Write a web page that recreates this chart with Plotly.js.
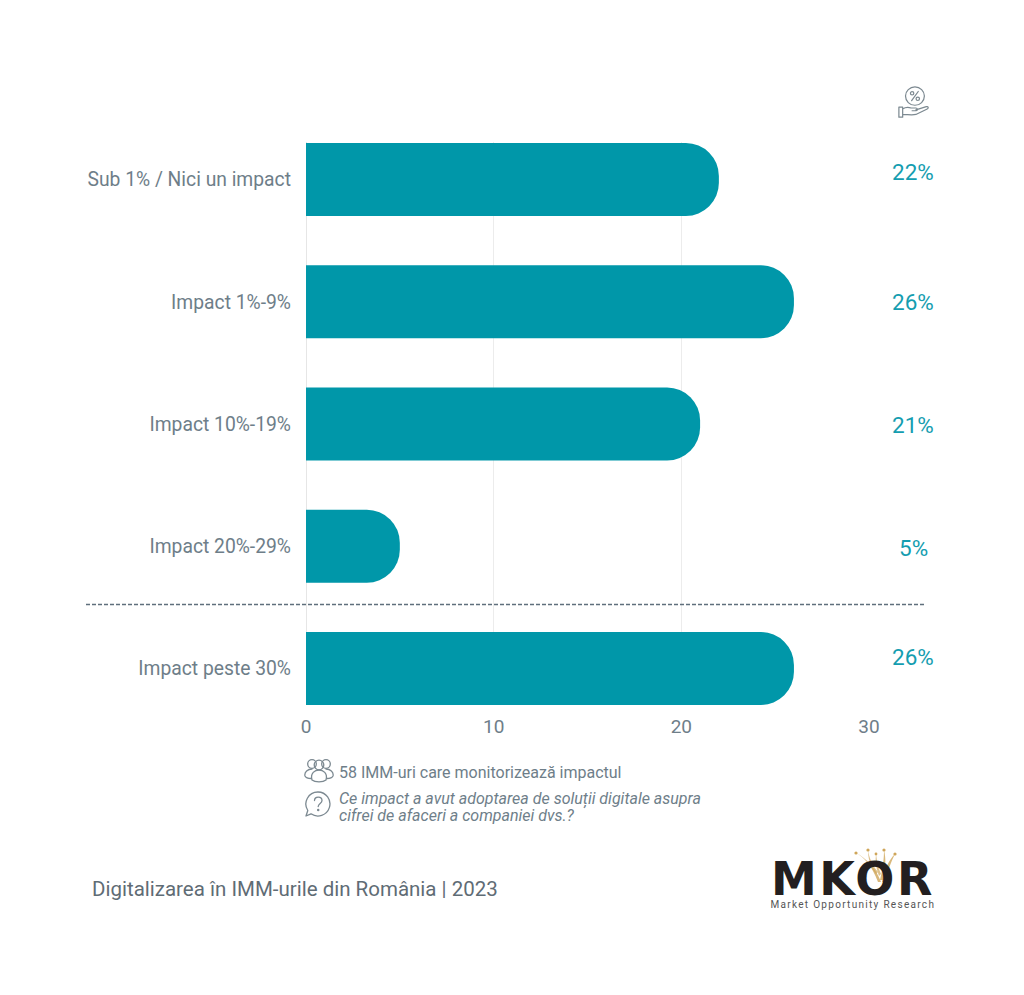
<!DOCTYPE html>
<html><head><meta charset="utf-8">
<script src="https://cdn.plot.ly/plotly-3.0.1.min.js"></script>
<style>
html,body{margin:0;padding:0;background:#fff}
#c{width:1024px;height:995px}
.annotation[data-index="10"] text{letter-spacing:1.3px}
.annotation[data-index="9"] text{letter-spacing:2.5px}
</style></head><body><div id="c"></div>
<script>
const categories=["Sub 1% / Nici un impact","Impact 1%-9%","Impact 10%-19%","Impact 20%-29%","Impact peste 30%"];
const values=[22,26,21,5,26];
const tickValues=[0,10,20,30];
const W=1024,H=995,L=306,R=869,T=142,B=705;
const px=x=>(x-L)/(R-L), py=y=>(B-y)/(B-T);
const labelY=[172,302,425,548,657];
const TEAL="#0097a9",GREY="#6e7e89",VALUE="#149db0";
const ann=(text,x,y,size,color,anchor,extra)=>Object.assign({text,x:px(x),y:py(y),xref:"paper",yref:"paper",showarrow:false,xanchor:anchor||"left",yanchor:"middle",font:{family:"Roboto",size,color}},extra||{});
const annotations=values.map((v,i)=>ann(v+"%",913,labelY[i],22.5,VALUE,"center"));
annotations.push(ann("58 IMM-uri care monitorizează impactul",337,772,16,GREY));
annotations.push(ann("<i>Ce impact a avut adoptarea de soluții digitale asupra</i>",337,799,16,GREY));
annotations.push(ann("<i>cifrei de afaceri a companiei dvs.?</i>",337,815,16,GREY));
annotations.push(ann("Digitalizarea în IMM-urile din România | 2023",90,889,20.5,"#5f6c75"));
annotations.push(Object.assign(ann("<b>MKOR</b>",852.5,879,46,"#231f20","center"),{font:{family:"DejaVu Sans",size:46,color:"#231f20"}}));
annotations.push(ann("Market Opportunity Research",853,904,10,"#555555","center"));
const svg=s=>"data:image/svg+xml;charset=utf-8,"+encodeURIComponent(s);
const stroke='fill="none" stroke="#7c8991" stroke-width="1.3" stroke-linecap="round" stroke-linejoin="round"';
const hand=svg(`<svg xmlns="http://www.w3.org/2000/svg" width="36" height="36" viewBox="0 0 36 36"><g ${stroke}><circle cx="19" cy="11" r="10"/><path d="M15.500 16l7-10"/><circle cx="16" cy="8" r="1.800"/><circle cx="22" cy="14" r="1.800"/><path d="M2 23h4v11H2zM6 25c3-2 6-2 9-1h5c2 0 2 3 0 3h-4M20 26l11-3.500c2-.5 3 1.500 1 2.500L20 31c-4 1-9 0-14 0"/></g></svg>`);
const people=svg(`<svg xmlns="http://www.w3.org/2000/svg" width="30" height="26" viewBox="0 0 30 26"><g ${stroke}><circle cx="15" cy="7" r="4.800"/><circle cx="8" cy="6" r="4.300"/><circle cx="22" cy="6" r="4.300"/><path d="M8 22c-2-7 3-10 7-10s9 3 7 10c-3 2.500-11 2.500-14 0z"/><path d="M8 11c-4 0-8 3-7 7 1 2 4 2.500 6 2.500M22 11c4 0 8 3 7 7-1 2-4 2.500-6 2.500"/></g></svg>`);
const question=svg(`<svg xmlns="http://www.w3.org/2000/svg" width="28" height="28" viewBox="0 0 28 28"><g ${stroke}><path d="M14 2a12 12 0 1 1-7 21.800L2 26l1.800-5.500A12 12 0 0 1 14 2z"/><path d="M10.500 10.500c0-4.500 7.500-4.500 7.500 0 0 3-3.500 3-3.800 6"/><circle cx="14.200" cy="20" r=".6"/></g></svg>`);
const crown=svg(`<svg xmlns="http://www.w3.org/2000/svg" width="44" height="36" viewBox="0 0 44 36"><g fill="#cfa65a"><circle cx="2" cy="5" r="1.600"/><circle cx="14" cy="2" r="1.600"/><circle cx="22" cy="6" r="1.400"/><circle cx="30" cy="2" r="1.600"/><circle cx="41" cy="6" r="1.600"/><path d="M2 5 C10 9 18 18 24 34 L27 34 C22 20 12 10 2 5z" opacity=".8"/><path d="M14 2 C14 10 16 18 22 26 L24 24 C19 18 15 10 14 2z" opacity=".7"/><path d="M22 6 C21 13 22 20 25 28 L27 26 C24 20 23 13 22 6z" opacity=".7"/><path d="M30 2 C30 10 29 20 26 32 L29 32 C32 20 32 10 30 2z" opacity=".8"/><path d="M41 6 C35 12 31 20 28 34 L31 34 C34 22 37 14 41 6z" opacity=".8"/></g></svg>`);
const img=(source,x,y,w,h)=>({source,xref:"paper",yref:"paper",x:px(x),y:py(y),sizex:w/(R-L),sizey:h/(B-T),xanchor:"left",yanchor:"top",sizing:"stretch",layer:"above"});
Plotly.newPlot("c",[{type:"bar",orientation:"h",y:categories,x:values,marker:{color:TEAL,cornerradius:33},hoverinfo:"skip",width:0.597}],{
 width:W,height:H,paper_bgcolor:"#fff",plot_bgcolor:"#fff",showlegend:false,
 margin:{l:L,r:W-R,t:T,b:H-B,pad:0},
 font:{family:"Roboto",color:GREY},
 xaxis:{range:[0,30],tickvals:tickValues,ticks:"",ticklabelstandoff:8,gridcolor:"#ececec",gridwidth:1,zeroline:true,zerolinecolor:"#e6e6e6",zerolinewidth:1,showline:false,tickfont:{family:"Roboto",size:19,color:GREY},automargin:false},
 yaxis:{type:"category",categoryorder:"array",categoryarray:categories,range:[4.2986,-0.3067],ticks:"",ticklabelstandoff:14,showgrid:false,zeroline:false,showline:false,tickfont:{family:"Roboto",size:19.3,color:GREY},automargin:false},
 shapes:[{type:"line",xref:"paper",yref:"paper",x0:px(86),x1:px(924),y0:py(604.500),y1:py(604.500),line:{color:"#5f6f7c",width:1.5,dash:"4px,2px"},layer:"above"}],
 annotations,
 images:[img(hand,897,86,34,33),img(people,304,758,30,26),img(question,304,790,28,28),img(crown,854,848,44,36)]
},{displayModeBar:false,staticPlot:true});
</script></body></html>
